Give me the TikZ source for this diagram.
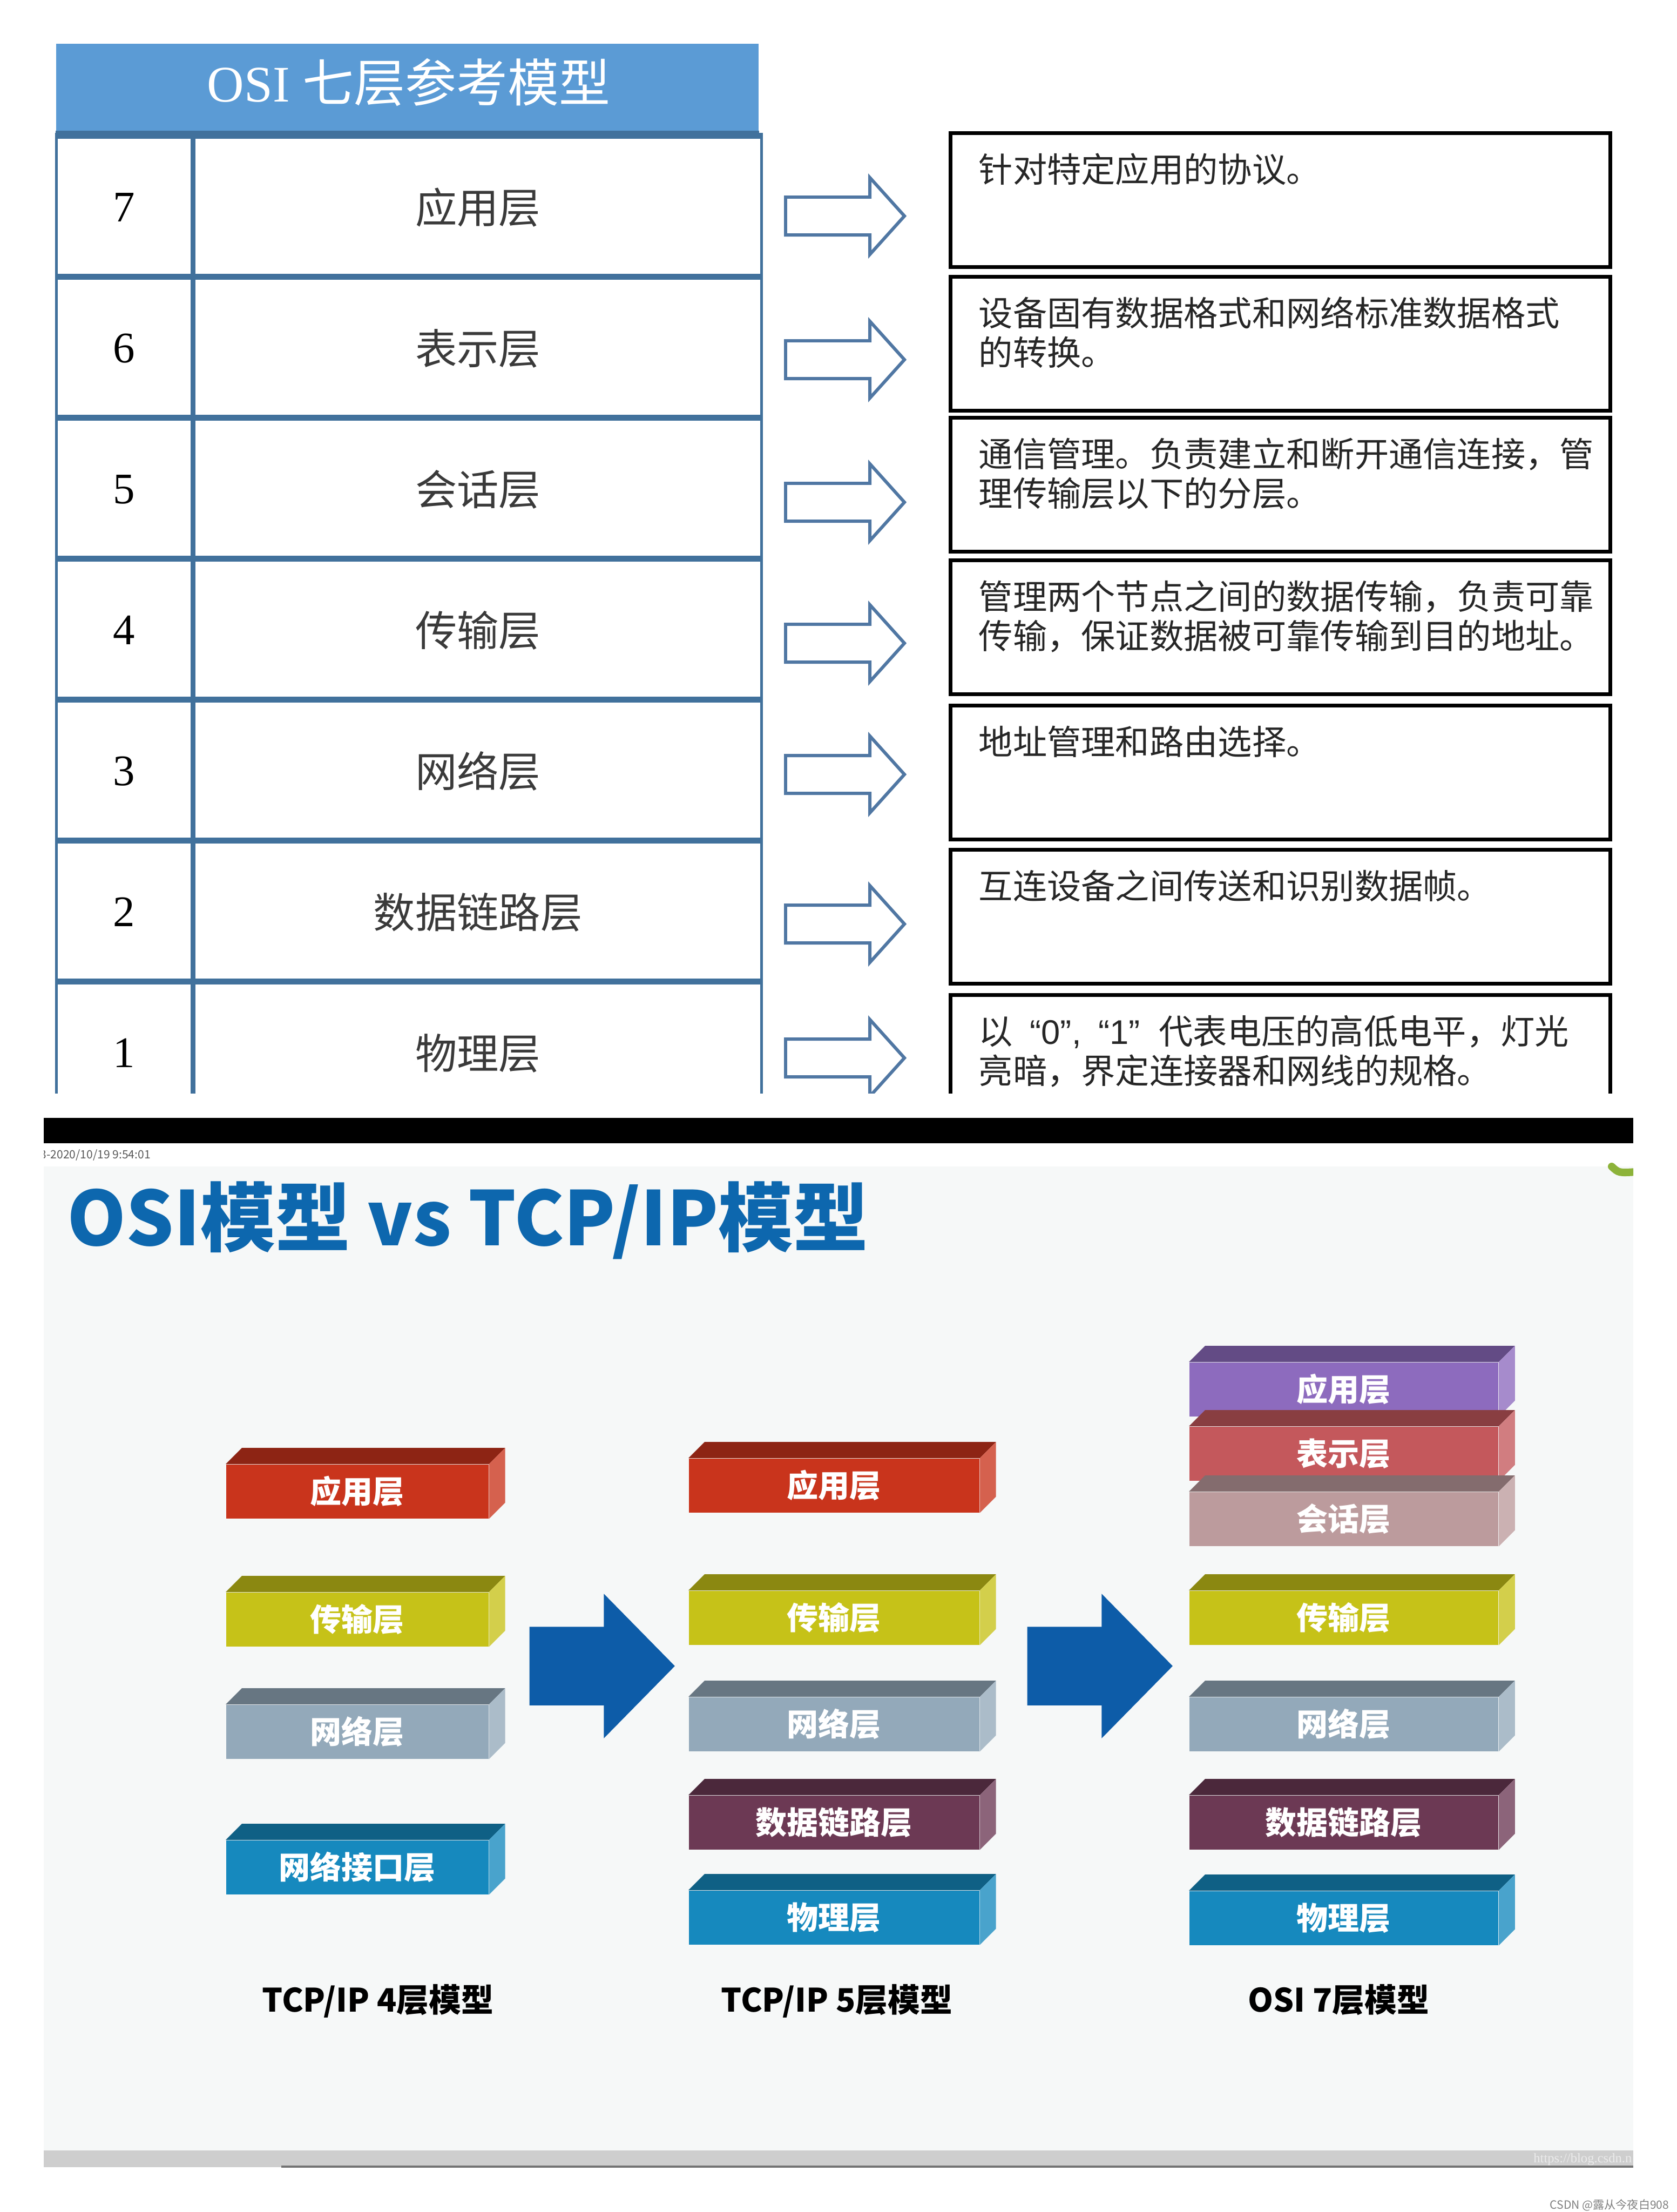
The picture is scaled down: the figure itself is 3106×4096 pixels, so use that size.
\documentclass[tikz,border=0pt]{standalone}
\usepackage{fontspec}
\setmainfont{Liberation Serif}
\newfontfamily\cjk{Noto Sans CJK SC}
\newfontfamily\latinq{Liberation Sans}
\usepackage{tikz}
\usetikzlibrary{arrows.meta, positioning, shapes.arrows}

\definecolor{hdrblue}{HTML}{5B9BD5}
\definecolor{tabline}{HTML}{41719C}
\definecolor{arrowbl}{HTML}{5077A3}
\definecolor{txtgray}{HTML}{3A3A3A}
\definecolor{titleblue}{HTML}{0D67AE}
\definecolor{arrowblue}{HTML}{0D5CA8}
\definecolor{slidebg}{HTML}{F6F8F8}
\definecolor{bargray}{HTML}{CECECE}
\definecolor{appred}{HTML}{C9341C}
\definecolor{trnyel}{HTML}{C6C218}
\definecolor{netgray}{HTML}{93A9BA}
\definecolor{phyblue}{HTML}{1689BE}
\definecolor{dlmaroon}{HTML}{6C3954}
\definecolor{apppurple}{HTML}{8D6BBE}
\definecolor{presred}{HTML}{C4585C}
\definecolor{sessrose}{HTML}{BC9B9D}
\definecolor{swoosh}{HTML}{8DB33A}

% name, x, y, width, colour, label
\newcommand{\slab}[6]{%
  \node[slab, fill=#5, minimum width=#4cm, anchor=north west] (#1) at (#2,#3) {#6};
  \fill[#5!70!black] (#1.north west) -- ++(30,-30) -- ([shift={(30,-30)}]#1.north east) -- (#1.north east) -- cycle;
  \fill[#5!78!white] (#1.north east) -- ++(30,-30) -- ([shift={(30,-30)}]#1.south east) -- (#1.south east) -- cycle;
}

\begin{document}
\begin{tikzpicture}[x=0.01cm, y=-0.01cm,
  header/.style={fill=hdrblue, minimum width=13.01cm, minimum height=1.67cm, inner sep=0},
  hdrtext/.style={text=white, inner sep=0, font=\fontsize{27pt}{29pt}\selectfont},
  numcell/.style={draw=tabline, line width=1.2pt, minimum width=2.51cm, minimum height=2.61cm, inner sep=0, font=\fontsize{23pt}{25pt}\selectfont},
  namecell/.style={draw=tabline, line width=1.2pt, minimum width=10.5cm, minimum height=2.61cm, inner sep=0, text=txtgray, font=\cjk\fontsize{22pt}{24pt}\selectfont},
  rowsep/.style={tabline, line width=3pt},
  hollowarrow/.style={single arrow, draw=arrowbl, line width=1.7pt, fill=white, inner xsep=0, inner ysep=0.32cm, minimum height=2.2cm, single arrow head extend=0.36cm, single arrow tip angle=96},
  descbox/.style={draw=black, line width=2pt, minimum width=12.21cm, minimum height=2.48cm, inner sep=0},
  desctext/.style={anchor=north west, align=left, inner sep=0, text=black!85, font=\cjk\fontsize{18pt}{20.8pt}\selectfont},
  title/.style={text=titleblue, inner sep=0, font=\cjk\bfseries\fontsize{39.5pt}{43pt}\selectfont},
  slab/.style={inner sep=0, minimum height=1cm, text=white, font=\cjk\bfseries\fontsize{16.5pt}{18pt}\selectfont},
  bigarrow/.style={single arrow, fill=arrowblue, inner xsep=0, inner ysep=0.72cm, minimum height=2.69cm, single arrow head extend=0.61cm, single arrow tip angle=91},
  modellabel/.style={inner sep=0, font=\cjk\bfseries\fontsize{17pt}{19pt}\selectfont},
  smalltext/.style={inner sep=0, font=\cjk\fontsize{6pt}{7pt}\selectfont}]

\useasboundingbox (0,0) rectangle (3106,4096);
\fill[white] (0,0) rectangle (3106,4096);

% OSI table
\begin{scope}
  \clip (0,0) rectangle (3106,2024);
  \node[header] (hdr) at (754.5,164.5) {};
  \node[hdrtext] (hdrtxt) at (757,153) {OSI {\cjk 七层参考模型}};
  \foreach \n/\lname [count=\i from 0] in {7/应用层, 6/表示层, 5/会话层, 4/传输层, 3/网络层, 2/数据链路层, 1/物理层} {
    \node[numcell] (n\n) at (230,384+261*\i) {\n};
    \node[namecell, right=0pt of n\n] (l\n) {\lname};
    \draw[rowsep] (n\n.north west) -- (l\n.north east);
  }
  \draw[tabline, line width=4pt] (hdr.south west) -- (hdr.south east);

  \foreach \n/\ay/\by in {7/400/243, 6/666/509, 5/930/770, 4/1191/1034, 3/1434/1303, 2/1711/1570, 1/1959/1839} {
    \node[hollowarrow, anchor=tail] (a\n) at (1452,\ay) {};
    \node[descbox, anchor=north west] (d\n) at (1757,\by) {};
  }
  \node[desctext] (t7) at ([shift={(55,40)}]d7.north west) {针对特定应用的协议。};
  \node[desctext] (t6) at ([shift={(55,40)}]d6.north west) {设备固有数据格式和网络标准数据格式\\的转换。};
  \node[desctext] (t5) at ([shift={(55,40)}]d5.north west) {通信管理。负责建立和断开通信连接，管\\理传输层以下的分层。};
  \node[desctext] (t4) at ([shift={(55,40)}]d4.north west) {管理两个节点之间的数据传输，负责可靠\\传输，保证数据被可靠传输到目的地址。};
  \node[desctext] (t3) at ([shift={(55,40)}]d3.north west) {地址管理和路由选择。};
  \node[desctext] (t2) at ([shift={(55,40)}]d2.north west) {互连设备之间传送和识别数据帧。};
  \node[desctext] (t1) at ([shift={(55,40)}]d1.north west) {以{\latinq\hspace{0.5em}“0”,\hspace{0.5em}“1”\hspace{0.55em}}代表电压的高低电平，灯光\\亮暗，界定连接器和网线的规格。};
\end{scope}

% slide
\fill[black] (81,2070) rectangle (3025,2117);
\begin{scope}
  \clip (81,2117) rectangle (3025,4013);
  \fill[slidebg] (81,2160) rectangle (3025,3982);
  \node[smalltext, text=black!65, anchor=base west] (date) at (74,2145) {3-2020/10/19 9:54:01};
  \draw[swoosh, line width=4pt, line cap=round] (2985,2160) .. controls (2998,2172) .. (3030,2170);
  \fill[bargray] (81,3982) rectangle (3025,4013);
  \draw[black!55, line width=1pt] (521,4012) -- (3025,4012);
  \node[smalltext, text=black!8, anchor=base east, font=\fontsize{7pt}{8pt}\selectfont] (url) at (3023,4004) {https://blog.csdn.n};
\end{scope}

\node[title, anchor=base west] (title) at (124,2306) {OSI模型 vs TCP/IP模型};

\slab{c4app}{418}{2711}{4.86}{appred}{应用层}
\slab{c4trn}{418}{2948}{4.86}{trnyel}{传输层}
\slab{c4net}{418}{3156}{4.86}{netgray}{网络层}
\slab{c4if}{418}{3407}{4.86}{phyblue}{网络接口层}

\slab{c5app}{1275}{2700}{5.38}{appred}{应用层}
\slab{c5trn}{1275}{2945}{5.38}{trnyel}{传输层}
\slab{c5net}{1275}{3142}{5.38}{netgray}{网络层}
\slab{c5dl}{1275}{3324}{5.38}{dlmaroon}{数据链路层}
\slab{c5phy}{1275}{3500}{5.38}{phyblue}{物理层}

\slab{c7app}{2202}{2522}{5.72}{apppurple}{应用层}
\slab{c7pre}{2202}{2641}{5.72}{presred}{表示层}
\slab{c7ses}{2202}{2762}{5.72}{sessrose}{会话层}
\slab{c7trn}{2202}{2945}{5.72}{trnyel}{传输层}
\slab{c7net}{2202}{3142}{5.72}{netgray}{网络层}
\slab{c7dl}{2202}{3324}{5.72}{dlmaroon}{数据链路层}
\slab{c7phy}{2202}{3501}{5.72}{phyblue}{物理层}

\node[bigarrow, anchor=tail] (arr1) at (980,3085) {};
\node[bigarrow, anchor=tail] (arr2) at (1902,3085) {};

\node[modellabel, anchor=base] (m4) at (700,3725) {TCP/IP 4层模型};
\node[modellabel, anchor=base] (m5) at (1550,3725) {TCP/IP 5层模型};
\node[modellabel, anchor=base] (m7) at (2479,3725) {OSI 7层模型};

\node[smalltext, text=black!50, anchor=base east] (mark) at (3092,4090) {CSDN @露从今夜白908};
\end{tikzpicture}
\end{document}
